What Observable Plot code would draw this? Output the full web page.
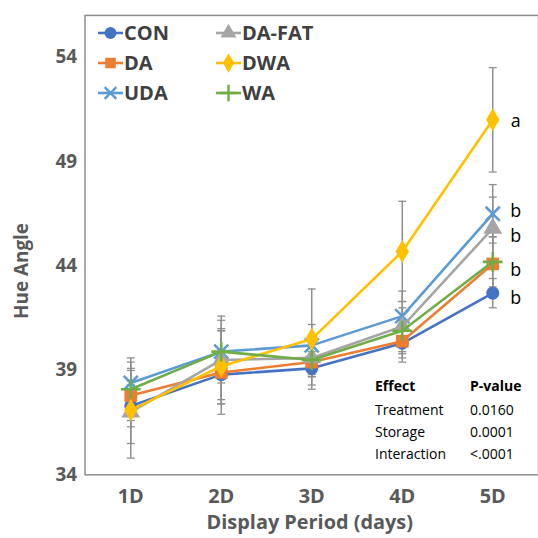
<!DOCTYPE html>
<html>
<head>
<meta charset="utf-8">
<script src="https://cdn.jsdelivr.net/npm/d3@7"></script>
<script src="https://cdn.jsdelivr.net/npm/@observablehq/plot@0.6"></script>
<style>
  html, body { margin: 0; padding: 0; background: #fff; }
  body { width: 538px; height: 538px; overflow: hidden; position: relative; font-family: "Open Sans", "DejaVu Sans", sans-serif; }
  #chart { position: absolute; left: 0; top: 0; }
  .leg { position: absolute; display: flex; align-items: center; font-weight: bold; font-size: 20px; color: #404040; line-height: 1; }
  .leg svg { display: block; margin-right: 1px; }
  .tbl { position: absolute; font-size: 14px; color: #000; line-height: 1; white-space: nowrap; }
  .tbl.b { font-weight: bold; }
</style>
</head>
<body>
<div id="chart"></div>
<script>
// ---- data ----
const days = ["1D", "2D", "3D", "4D", "5D"];
const seriesNames = ["CON", "DA", "UDA", "DA-FAT", "DWA", "WA"];
const CON   = [37.3, 38.8, 39.1, 40.3, 42.7];
const DA    = [37.8, 38.9, 39.4, 40.4, 44.1];
const UDA   = [38.4, 39.9, 40.2, 41.6, 46.5];
const DAFAT = [37.0, 39.5, 39.6, 41.1, 45.8];
const DWA   = [37.1, 39.2, 40.5, 44.7, 51.0];
const WA    = [38.1, 39.9, 39.5, 40.9, 44.2];
const errCON   = [1.0, 1.2, 0.8, 0.7, 0.7];
const errDA    = [1.2, 2.0, 0.7, 1.0, 1.3];
const errUDA   = [1.2, 1.5, 1.0, 1.2, 1.4];
const errDAFAT = [1.5, 2.1, 0.8, 1.2, 1.5];
const errDWA   = [2.3, 1.8, 2.4, 2.4, 2.5];
const errWA    = [1.0, 1.0, 0.8, 1.1, 1.2];
const yTicks = [34, 39, 44, 49, 54];
const letterSeries = ["DWA", "UDA", "DA-FAT", "DA", "CON"];
const letters = ["a", "b", "b", "b", "b"];
const effects = ["Treatment", "Storage", "Interaction"];
const pValues = ["0.0160", "0.0001", "<.0001"];

// ---- styles ----
const colors = {"CON": "#4472C4", "DA": "#ED7D31", "UDA": "#5B9BD5", "DA-FAT": "#A5A5A5", "DWA": "#FFC000", "WA": "#70AD47"};
const symbols = {"CON": "circle", "DA": "square", "UDA": "times", "DA-FAT": "triangle", "DWA": "diamond", "WA": "plus"};
const stroked = {"UDA": true, "WA": true};
const sizes = {"CON": 6.5, "DA": 7.2, "UDA": 6.5, "DA-FAT": 7, "DWA": 7, "WA": 6.5};

const valuesBy = {"CON": CON, "DA": DA, "UDA": UDA, "DA-FAT": DAFAT, "DWA": DWA, "WA": WA};
const errBy = {"CON": errCON, "DA": errDA, "UDA": errUDA, "DA-FAT": errDAFAT, "DWA": errDWA, "WA": errWA};

const rows = [];
for (const s of seriesNames) {
  days.forEach((d, i) => rows.push({series: s, day: d, value: valuesBy[s][i], err: errBy[s][i]}));
}

const capSymbol = { draw(ctx) { ctx.moveTo(-4, 0); ctx.lineTo(4, 0); } };

const marks = [
  Plot.frame({stroke: "#8c8c8c", strokeWidth: 1.5}),
  Plot.ruleX(rows, {x: "day", y1: d => d.value - d.err, y2: d => d.value + d.err, stroke: "#8f8f8f", strokeWidth: 1.5}),
  Plot.dot(rows, {x: "day", y: d => d.value - d.err, symbol: capSymbol, stroke: "#8f8f8f", strokeWidth: 1.3, r: 4}),
  Plot.dot(rows, {x: "day", y: d => d.value + d.err, symbol: capSymbol, stroke: "#8f8f8f", strokeWidth: 1.3, r: 4})
];
for (const s of seriesNames) {
  const data = rows.filter(r => r.series === s);
  marks.push(Plot.line(data, {x: "day", y: "value", stroke: colors[s], strokeWidth: 2.6}));
  if (stroked[s]) {
    marks.push(Plot.dot(data, {x: "day", y: "value", symbol: symbols[s], stroke: colors[s], strokeWidth: 2.6, r: sizes[s]}));
  } else {
    marks.push(Plot.dot(data, {x: "day", y: "value", symbol: symbols[s], fill: colors[s], stroke: "none", r: sizes[s]}));
  }
}
const letterDy = [1, -3, 8, 6, 5];
letterSeries.forEach((s, i) => {
  marks.push(Plot.text([s], {x: () => "5D", y: d => valuesBy[d][4], text: () => letters[i], dx: 23, dy: letterDy[i], fontSize: 18, fill: "#000", textAnchor: "middle"}));
});
marks.push(
  Plot.axisY({ticks: yTicks, tickSize: 0, tickPadding: 8, fontSize: 19, fontWeight: "bold", fill: "#595959", label: null}),
  Plot.axisX({tickSize: 0, tickPadding: 14, fontSize: 20, fontWeight: "bold", fill: "#595959", label: null}),
  Plot.text(["Hue Angle"], {frameAnchor: "left", text: d => d, rotate: -90, dx: -63, dy: 26, fontSize: 19, fontWeight: "bold", fill: "#595959", textAnchor: "middle"}),
  Plot.text(["Display Period (days)"], {frameAnchor: "bottom", text: d => d, dx: -2, dy: 54, fontSize: 20, fontWeight: "bold", fill: "#595959", textAnchor: "middle"})
);

const chart = Plot.plot({
  width: 541,
  height: 538,
  marginLeft: 85,
  marginRight: 0,
  marginTop: 15,
  marginBottom: 61,
  style: {fontFamily: "'Open Sans', sans-serif", background: "transparent", overflow: "visible"},
  x: {type: "point", domain: days, padding: 0.5},
  y: {domain: [34, 56]},
  marks
});
document.getElementById("chart").appendChild(chart);

// ---- legend (inside the frame, top-left) ----
const legendPos = [[98, 33], [98, 63], [98, 93], [216, 33], [216, 63], [216, 93]];
const legendOrder = ["CON", "DA", "UDA", "DA-FAT", "DWA", "WA"];
legendOrder.forEach((s, i) => {
  const [lx, ly] = legendPos[i];
  const div = document.createElement("div");
  div.className = "leg";
  div.style.left = lx + "px";
  div.style.top = (ly - 12) + "px";
  div.style.height = "24px";
  const sym = {circle: d3.symbolCircle, square: d3.symbolSquare, times: d3.symbolTimes, triangle: d3.symbolTriangle, diamond: d3.symbolDiamond, plus: d3.symbolPlus}[symbols[s]];
  const size = stroked[s] ? 90 : 110;
  const path = d3.symbol(sym, size)();
  const fillAttr = stroked[s] ? `fill="none" stroke="${colors[s]}" stroke-width="2.4"` : `fill="${colors[s]}"`;
  div.innerHTML = `<svg width="25" height="24" viewBox="0 0 25 24"><line x1="0" x2="25" y1="12" y2="12" stroke="${colors[s]}" stroke-width="2.6"/><path transform="translate(12.5,12)" d="${path}" ${fillAttr}/></svg><span>${s}</span>`;
  document.body.appendChild(div);
});

// ---- effect table ----
const tblRowY = [387, 411, 433, 455];
const addTxt = (txt, x, y, bold) => {
  const el = document.createElement("div");
  el.className = "tbl" + (bold ? " b" : "");
  el.textContent = txt;
  el.style.left = x + "px";
  el.style.top = (y - 8) + "px";
  document.body.appendChild(el);
};
addTxt("Effect", 375, tblRowY[0], true);
addTxt("P-value", 470, tblRowY[0], true);
effects.forEach((e, i) => {
  addTxt(e, 375, tblRowY[i + 1], false);
  addTxt(pValues[i], 470, tblRowY[i + 1], false);
});
</script>
</body>
</html>
